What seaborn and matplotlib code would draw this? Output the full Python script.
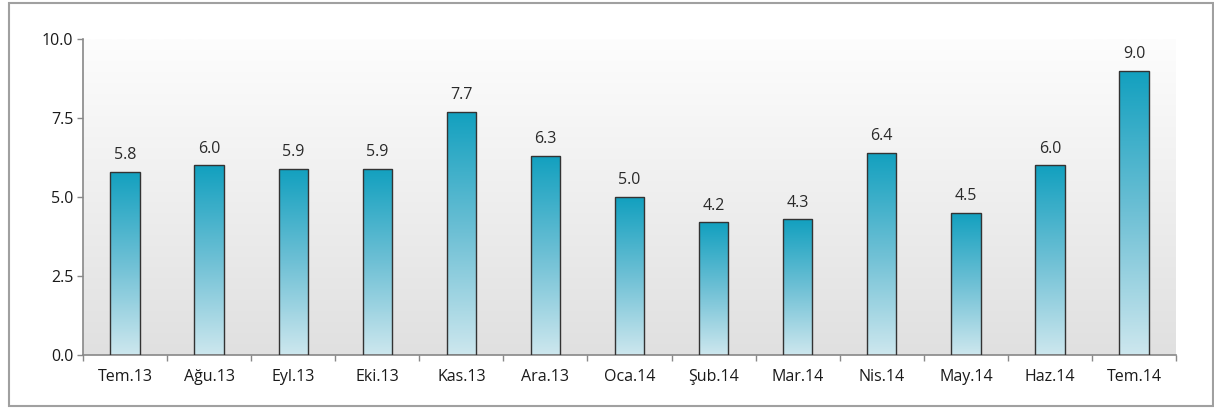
import numpy as np
import pandas as pd
import matplotlib
matplotlib.use('Agg')
import matplotlib.pyplot as plt
import seaborn as sns
from matplotlib.colors import LinearSegmentedColormap
from matplotlib.patches import Rectangle

months = ['Tem.13', 'Ağu.13', 'Eyl.13', 'Eki.13', 'Kas.13', 'Ara.13', 'Oca.14',
          'Şub.14', 'Mar.14', 'Nis.14', 'May.14', 'Haz.14', 'Tem.14']
values = [5.8, 6.0, 5.9, 5.9, 7.7, 6.3, 5.0, 4.2, 4.3, 6.4, 4.5, 6.0, 9.0]
yticks = [0.0, 2.5, 5.0, 7.5, 10.0]

sns.set_style('white')
plt.rcParams['font.family'] = ['Open Sans', 'DejaVu Sans']

df = pd.DataFrame({'month': months, 'value': values})

fig = plt.figure(figsize=(12.14, 4.08), dpi=100)
ax = fig.add_axes([0.0684, 0.1299, 0.9003, 0.7745])

sns.barplot(data=df, x='month', y='value', ax=ax, width=0.35,
            color='#1aa0c0', edgecolor='#333333', linewidth=1.0, zorder=3)

# gradient background of the plot area
bg = LinearSegmentedColormap.from_list('bg', ['#e0e0e0', '#fdfdfd'])
ax.imshow(np.linspace(0, 1, 256).reshape(-1, 1), cmap=bg, aspect='auto',
          origin='lower', extent=[-0.5, 12.5, 0, 10], zorder=0)

# gradient fill in the bars, each bar runs light -> teal over its own height
barcm = LinearSegmentedColormap.from_list('bar', ['#cde7ee', '#6ec0d5', '#12a0bf'])
for p in ax.patches:
    x0, y0 = p.get_x(), p.get_y()
    w, h = p.get_width(), p.get_height()
    p.set_facecolor('none')
    im = ax.imshow(np.linspace(0, 1, 256).reshape(-1, 1), cmap=barcm, aspect='auto',
                   origin='lower', extent=[x0, x0 + w, 0, h], zorder=2)
    im.set_clip_path(p)
    ax.text(x0 + w / 2, y0 + h + 0.27, f'{h:.1f}', ha='center', va='bottom',
            fontsize=11.5, color='#2a2a2a')

ax.set_xlim(-0.5, 12.5)
ax.set_ylim(0, 10)
ax.set_yticks(yticks)
ax.set_yticklabels([f'{t:.1f}' for t in yticks], fontsize=11.5, color='#1a1a1a')
ax.set_xticks(range(len(months)))
ax.set_xticklabels(months, fontsize=11.5, color='#1a1a1a')
ax.set_xticks(np.arange(-0.5, 13, 1), minor=True)
ax.tick_params(axis='x', which='major', length=0, pad=10)
ax.tick_params(axis='x', which='minor', length=4, color='#888888', width=1, direction='out', bottom=True)
ax.tick_params(axis='y', length=4, color='#888888', width=1, direction='out', left=True, pad=3)
ax.set_xlabel('')
ax.set_ylabel('')

for s in ['top', 'right']:
    ax.spines[s].set_visible(False)
for s in ['left', 'bottom']:
    ax.spines[s].set_color('#888888')
    ax.spines[s].set_linewidth(1.2)

fig.patches.append(Rectangle((9 / 1214, 2 / 408), 1204 / 1214, 403 / 408,
                             transform=fig.transFigure, fill=False,
                             edgecolor='#a0a0a0', linewidth=1.5))

fig.savefig('out.png', dpi=100)
